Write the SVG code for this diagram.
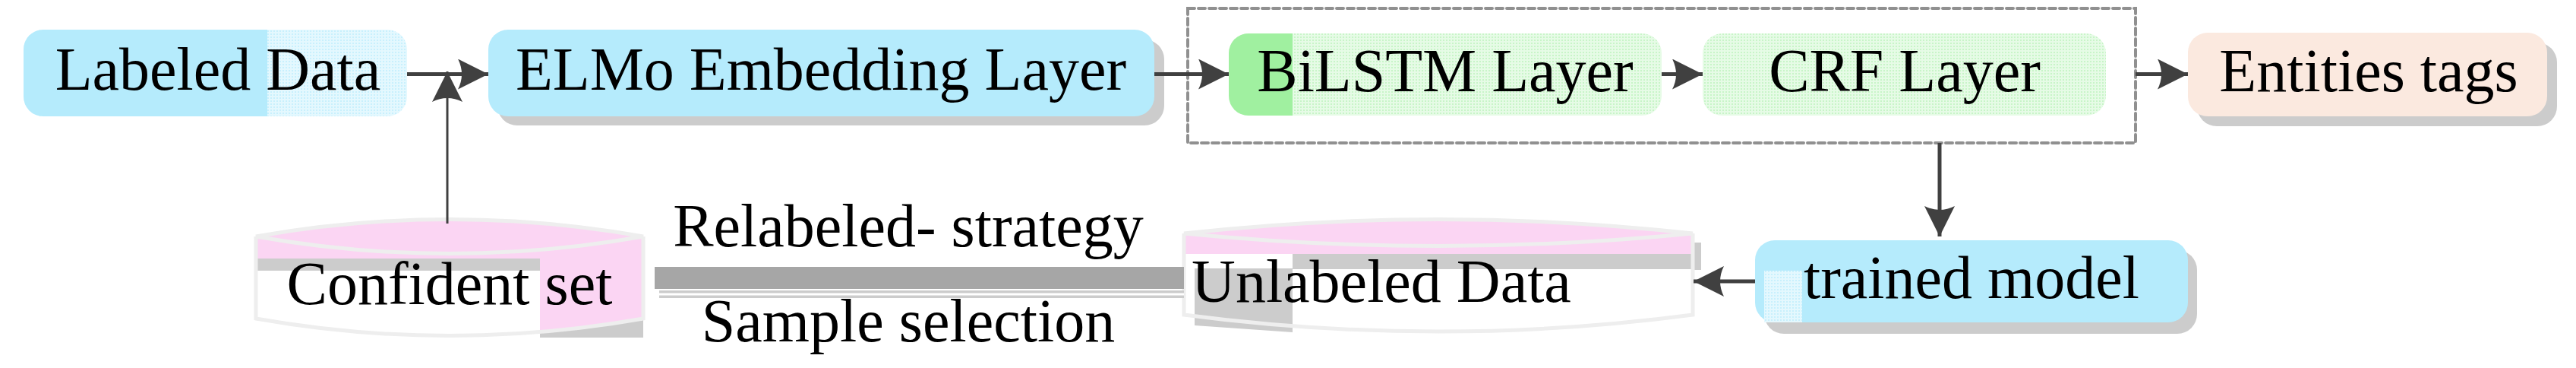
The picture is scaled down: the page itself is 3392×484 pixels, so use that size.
<svg xmlns="http://www.w3.org/2000/svg" width="3392" height="484" viewBox="0 0 3392 484">
<defs>
<style>
text{font-family:"Liberation Serif","DejaVu Serif",serif;font-size:80px;fill:#000;text-anchor:middle}
.shadow{fill:#cccccc}
.blue{fill:#b5ebfc}
.conn{stroke:#404040;stroke-width:5;fill:none}
.thin{stroke:#404040;stroke-width:3;fill:none}
.cylo{fill:none;stroke:#eeeeee;stroke-width:5}
</style>
<marker id="ah" viewBox="0 0 40 40" refX="40" refY="20" markerWidth="40" markerHeight="40" markerUnits="userSpaceOnUse" orient="auto">
<path d="M0,0 L40,20 L0,40 Q10,20 0,0Z" fill="#404040"/>
</marker>
<pattern id="ghatch" width="4" height="4" patternUnits="userSpaceOnUse"><rect width="4" height="4" fill="#e6fbe6"/><rect width="2" height="2" fill="#c8f5c8"/></pattern>
<pattern id="bhatch" width="4" height="4" patternUnits="userSpaceOnUse"><rect width="4" height="4" fill="#e4f8fe"/><rect width="2" height="2" fill="#c8f0fd"/></pattern>
</defs>

<g id="dashed-group">
<rect x="1564" y="11" width="1248" height="177" fill="none" stroke="#909090" stroke-width="4" stroke-dasharray="9,5" stroke-linecap="round"/>
</g>

<g id="labeled-data">
<rect x="31" y="39" width="505" height="114" rx="26" fill="url(#bhatch)"/>
<path d="M57,39 H352 V153 H57 A26,26 0 0 1 31,127 V65 A26,26 0 0 1 57,39Z" class="blue"/>
<text x="287" y="118">Labeled Data</text>
</g>

<g id="elmo">
<rect x="655" y="52" width="878" height="113" rx="26" class="shadow"/>
<rect x="643" y="39" width="877" height="114" rx="26" class="blue"/>
<text x="1081" y="118">ELMo Embedding Layer</text>
</g>

<g id="bilstm">
<rect x="1618" y="44" width="570" height="108" rx="26" fill="url(#ghatch)"/>
<path d="M1644,44 H1702 V152 H1644 A26,26 0 0 1 1618,126 V70 A26,26 0 0 1 1644,44Z" fill="#a0f0a0"/>
<text x="1903" y="120">BiLSTM Layer</text>
</g>

<g id="crf">
<rect x="2242" y="44" width="531" height="108" rx="26" fill="url(#ghatch)"/>
<text x="2508" y="120">CRF Layer</text>
</g>

<g id="entities">
<rect x="2893" y="56" width="474" height="110" rx="26" class="shadow"/>
<rect x="2881" y="43" width="473" height="110" rx="26" fill="#fbe9df"/>
<text x="3119" y="120">Entities tags</text>
</g>

<g id="trained-model">
<rect x="2323" y="329" width="570" height="110" rx="26" class="shadow"/>
<rect x="2311" y="316" width="570" height="108" rx="26" class="blue"/>
<rect x="2323" y="356" width="50" height="68" fill="url(#bhatch)"/>
<text x="2596" y="392">trained model</text>
</g>

<g id="confident-set">
<rect x="711" y="330" width="136" height="114" fill="#cccccc"/>
<path d="M337,311 V419 Q592,464 847,419 V311Z" fill="#ffffff"/>
<path d="M337,311 Q592,266 847,311 V340 H337Z" fill="#fbd5f3"/>
<path d="M711,340 H847 V419 Q780,431 711,436Z" fill="#fbd5f3"/>
<rect x="337" y="340" width="374" height="16" fill="#cccccc"/>
<path d="M337,311 Q592,266 847,311 Q592,356 337,311Z M337,311 V419 Q592,464 847,419 V311" class="cylo"/>
<text x="592" y="400">Confident set</text>
</g>

<g id="unlabeled-data">
<rect x="2229" y="319" width="11" height="36" fill="#cccccc"/>
<path d="M1559,307 V414 Q1894,458 2229,414 V307Z" fill="#ffffff"/>
<path d="M1573,353 H1702 V437 L1573,428Z" fill="#cccccc"/>
<rect x="1702" y="334" width="527" height="20" fill="#cccccc"/>
<path d="M1559,307 Q1894,270 2229,307 V334 H1559Z" fill="#fbd5f3"/>
<path d="M1559,307 Q1894,270 2229,307 Q1894,340 1559,307Z M1559,307 V414 Q1894,458 2229,414 V307" class="cylo"/>
<text x="1819" y="397">Unlabeled Data</text>
</g>

<g id="connectors">
<line x1="536" y1="97.5" x2="643" y2="97.5" class="conn" marker-end="url(#ah)"/>
<line x1="1520" y1="97.5" x2="1618" y2="97.5" class="conn" marker-end="url(#ah)"/>
<line x1="2188" y1="97.5" x2="2242" y2="97.5" class="conn" marker-end="url(#ah)"/>
<line x1="2812" y1="97.5" x2="2881" y2="97.5" class="conn" marker-end="url(#ah)"/>
<line x1="589" y1="294" x2="589" y2="94" class="thin" marker-end="url(#ah)"/>
<line x1="2554" y1="188" x2="2554" y2="311" class="conn" marker-end="url(#ah)"/>
<line x1="2311" y1="370" x2="2230" y2="370" class="conn" marker-end="url(#ah)"/>
<rect x="862" y="351" width="697" height="29" fill="#a6a6a6"/>
<rect x="868" y="382" width="691" height="10" fill="#cccccc"/>
<line x1="868" y1="387" x2="1559" y2="387" stroke="#ffffff" stroke-width="3"/>
<text x="1196" y="324">Relabeled- strategy</text>
<text x="1196" y="449">Sample selection</text>
</g>
</svg>
